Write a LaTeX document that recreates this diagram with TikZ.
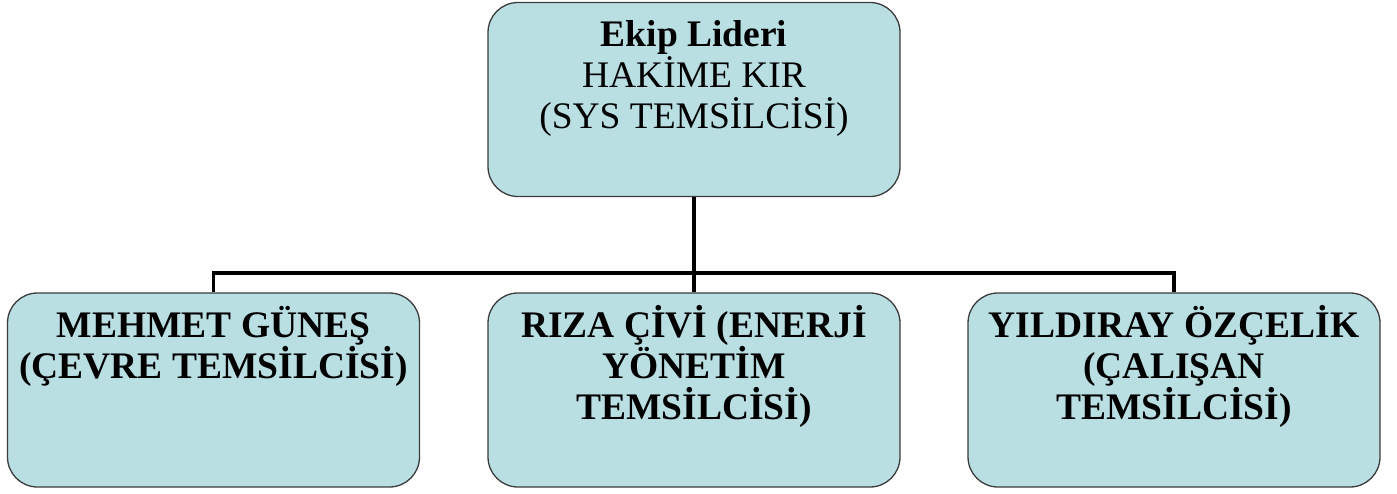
\documentclass[tikz,border=0pt]{standalone}
\usepackage{fontspec}
\setmainfont{Liberation Serif}
\definecolor{boxfill}{RGB}{185,223,227}
\definecolor{boxline}{RGB}{60,60,60}
\tikzset{
  orgbox/.style={draw=boxline, line width=1.3pt, fill=boxfill, rounded corners=30pt,
    inner sep=0pt, minimum width=412pt, minimum height=194pt},
  conn/.style={draw=black, line width=3.2pt},
}
\newcommand{\boxtext}[1]{\parbox[c][194pt][t]{404pt}{\centering\fontsize{37.5}{41}\selectfont\rule{0pt}{44pt}#1}}
\begin{document}
\begin{tikzpicture}[x=1pt,y=-1pt]
\useasboundingbox (0,0) rectangle (1397,494);
\node[orgbox] (top) at (694,99.5) {\boxtext{\textbf{Ekip Lideri}\\HAKİME KIR\\(SYS TEMSİLCİSİ)}};
\node[orgbox] (left) at (213.5,390) {\boxtext{\bfseries MEHMET GÜNEŞ\\(ÇEVRE TEMSİLCİSİ)}};
\node[orgbox] (mid) at (694,390) {\boxtext{\bfseries RIZA ÇİVİ (ENERJİ\\YÖNETİM\\TEMSİLCİSİ)}};
\node[orgbox] (right) at (1174,390) {\boxtext{\bfseries YILDIRAY ÖZÇELİK\\(ÇALIŞAN\\TEMSİLCİSİ)}};
\coordinate (bus) at (694,273);
\draw[conn] (top.south) -- (bus);
\draw[conn] (left.north) |- (bus) -| (right.north);
\draw[conn] (bus) -- (mid.north);
\end{tikzpicture}
\end{document}
